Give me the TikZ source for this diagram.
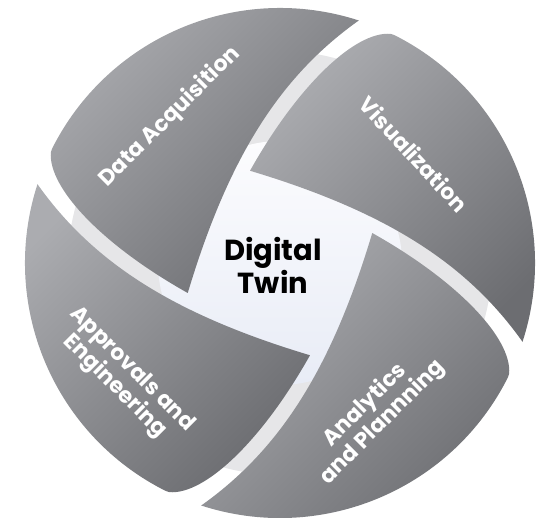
\documentclass[tikz,border=0pt]{standalone}
\usepackage{fontspec}
\setmainfont{Poppins}
\definecolor{bladelight}{HTML}{ABACB0}
\definecolor{bladedark}{HTML}{6C6D71}
\definecolor{ringgray}{HTML}{E6E6E8}
\definecolor{coretop}{HTML}{FCFCFE}
\definecolor{corebot}{HTML}{E8ECF6}

\def\blade#1{
  \shade[blade] ({198+#1}:97) .. controls ({175.6+#1}:169.5) and ({163.6+#1}:233.5) .. ({155.8+#1}:251)
     .. controls ({154.2+#1}:255) .. ({152.5+#1}:255)
     arc[start angle={152.5+#1}, end angle={72+#1}, radius=255]
     .. controls ({90.3+#1}:186) and ({116.6+#1}:116.3) .. ({198+#1}:97) -- cycle;
  }

\begin{document}
\begin{tikzpicture}[x=1pt,y=1pt,
  blade/.style = {left color=bladelight, right color=bladedark
    , shading angle=45},
  lbl/.style = {text=white, align=center
    , font=\bfseries\fontsize{22}{23}\selectfont}]

 \useasboundingbox (-280,-254) rectangle (257,263);

 % ring and core
 \fill[ringgray] (0,0) circle (212);
 \shade[top color=coretop, bottom color=corebot] (0,0) circle (122);

 % four blades, clockwise
 \blade{0}
 \blade{-90}
 \blade{-180}
 \blade{-270}

 \node[lbl, rotate=45] (da) at (-110,146) {Data Acquisition};
 \node[lbl, rotate=-47] (vis) at (134,109) {Visualization};
 \node[lbl, rotate=45] (an) at (94,-151) {Analytics\\and Plannning};
 \node[lbl, rotate=-45] (ap) at (-157,-115) {Approvals and\\Engineering};

 \node[align=center, font=\bfseries\fontsize{29}{33}\selectfont] (twin) at (-7,-2) {Digital\\Twin};
\end{tikzpicture}
\end{document}
